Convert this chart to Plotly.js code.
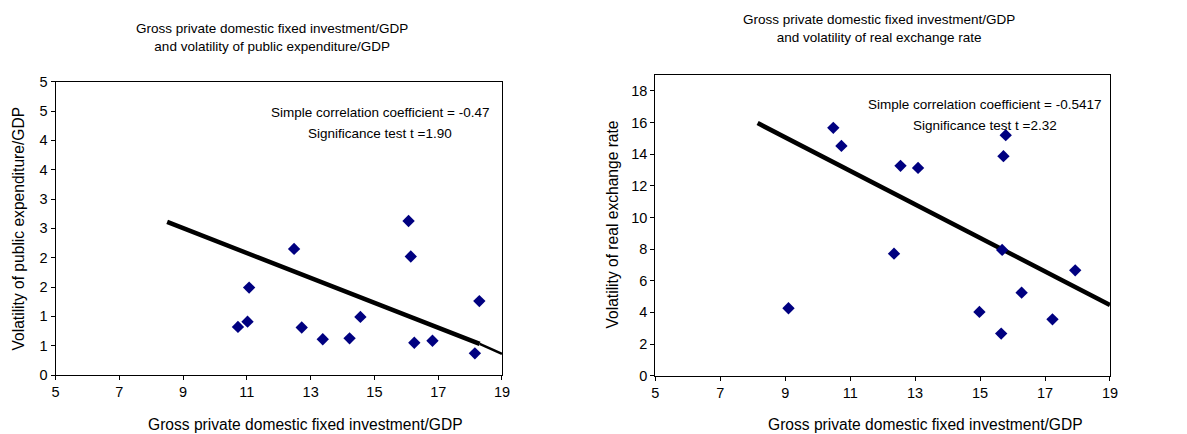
<!DOCTYPE html>
<html><head><meta charset="utf-8">
<script src="https://cdn.plot.ly/plotly-3.0.1.min.js"></script>
<style>html,body{margin:0;padding:0;background:#fff}#c{width:1187px;height:434px}</style>
</head><body><div id="c"></div>
<script>
// Left panel: investment/GDP vs volatility of public expenditure/GDP
var invLeft = [10.72, 11.02, 11.07, 12.48, 12.72, 13.38, 14.22, 14.56, 16.07, 16.14, 16.25, 16.82, 18.15, 18.29];
var volPublic = [0.82, 0.91, 1.49, 2.15, 0.81, 0.61, 0.625, 0.99, 2.625, 2.02, 0.55, 0.585, 0.37, 1.26];
var trendLeftX = [8.5, 18.3];
var trendLeftY = [2.61, 0.53];
var trendLeftExtX = [18.3, 19];
var trendLeftExtY = [0.53, 0.36];
var leftYTickVals = [0, 0.5, 1, 1.5, 2, 2.5, 3, 3.5, 4, 4.5, 5];
var leftYTickText = ["0", "1", "1", "2", "2", "3", "3", "4", "4", "5", "5"];

// Right panel: investment/GDP vs volatility of real exchange rate
var invRight = [9.10, 10.48, 10.73, 12.55, 13.09, 12.35, 15.72, 15.79, 15.68, 14.98, 15.65, 16.28, 17.23, 17.93];
var volRER = [4.26, 15.66, 14.52, 13.26, 13.13, 7.71, 13.87, 15.20, 7.95, 4.03, 2.66, 5.25, 3.56, 6.66];
var trendRightX = [8.15, 19];
var trendRightY = [15.96, 4.47];
var rightYTickVals = [0, 2, 4, 6, 8, 10, 12, 14, 16, 18];

var xTickVals = [5, 7, 9, 11, 13, 15, 17, 19];

var font = "Liberation Sans, Arial, sans-serif";
var mk = {symbol: "diamond", color: "#000080", size: 9.5, line: {width: 0}};

var traces = [
  {x: trendLeftX, y: trendLeftY, mode: "lines", line: {color: "#000", width: 4.5}, xaxis: "x", yaxis: "y", hoverinfo: "skip"},
  {x: trendLeftExtX, y: trendLeftExtY, mode: "lines", line: {color: "#000", width: 2.5}, xaxis: "x", yaxis: "y", hoverinfo: "skip"},
  {x: invLeft, y: volPublic, mode: "markers", marker: mk, xaxis: "x", yaxis: "y"},
  {x: trendRightX, y: trendRightY, mode: "lines", line: {color: "#000", width: 4.5}, xaxis: "x2", yaxis: "y2", hoverinfo: "skip"},
  {x: invRight, y: volRER, mode: "markers", marker: mk, xaxis: "x2", yaxis: "y2"}
];

var tickFont = {family: font, size: 14.5, color: "#000"};
function xax(domain, anchor) {
  return {domain: domain, anchor: anchor, range: [5, 19], tickvals: xTickVals, ticks: "outside", ticklen: 4,
    tickcolor: "#000", showline: true, linecolor: "#000", linewidth: 1, mirror: true, showgrid: false, zeroline: false,
    tickfont: tickFont};
}
function yax(domain, anchor, range) {
  return {domain: domain, anchor: anchor, range: range, ticks: "outside", ticklen: 4, tickcolor: "#000",
    showline: true, linecolor: "#000", linewidth: 1, mirror: true, showgrid: false, zeroline: false,
    tickfont: tickFont};
}

var xa1 = xax([0.0468, 0.4229], "y");
var ya1 = yax([0.1359, 0.8118], "x", [0, 5]);
ya1.tickvals = leftYTickVals; ya1.ticktext = leftYTickText;
var xa2 = xax([0.5521, 0.9351], "y2");
var ya2 = yax([0.1343, 0.8272], "x2", [0, 19]);
ya2.tickvals = rightYTickVals;

var tf = {family: font, size: 13.5, color: "#000"};
var af = {family: font, size: 15.6, color: "#000"};
function ann(text, px, py, extra) {
  var a = {text: text, x: px / 1187, y: 1 - py / 434, xref: "paper", yref: "paper", showarrow: false, font: tf, xanchor: "center", yanchor: "middle"};
  if (extra) for (var k in extra) a[k] = extra[k];
  return a;
}
var layout = {
  width: 1187, height: 434, margin: {l: 0, r: 0, t: 0, b: 0},
  paper_bgcolor: "#fff", plot_bgcolor: "#fff", showlegend: false,
  xaxis: xa1, yaxis: ya1, xaxis2: xa2, yaxis2: ya2,
  font: {family: font, color: "#000"},
  annotations: [
    ann("Gross private domestic fixed investment/GDP<br>and volatility of public expenditure/GDP", 272, 37),
    ann("Gross private domestic fixed investment/GDP<br>and volatility of real exchange rate", 879, 29),
    ann("Gross private domestic fixed investment/GDP", 306, 424, {font: af}),
    ann("Gross private domestic fixed investment/GDP", 925, 424.5, {font: af}),
    ann("Volatility of public expenditure/GDP", 18, 228.5, {textangle: -90, font: af}),
    ann("Volatility of real exchange rate", 612, 224.5, {textangle: -90, font: af}),
    ann("Simple correlation coefficient = -0.47", 380, 112.7),
    ann("Significance test t =1.90", 380, 133.3),
    ann("Simple correlation coefficient = -0.5417", 985, 104.3),
    ann("Significance test t =2.32", 985, 125.7)
  ]
};
Plotly.newPlot("c", traces, layout, {displayModeBar: false, staticPlot: true});
</script>
</body></html>
